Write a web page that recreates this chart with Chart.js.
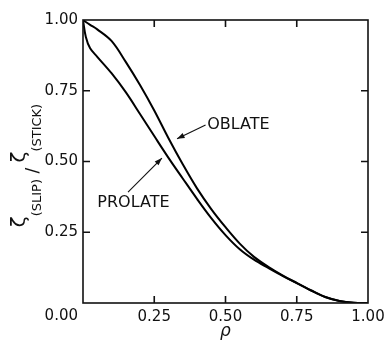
<!DOCTYPE html>
<html lang="en">
<head>
  <meta charset="UTF-8">
  <title>Slip / stick ratio</title>
  <script src="https://cdn.jsdelivr.net/npm/chart.js"></script>
  <style>
    html, body { margin: 0; padding: 0; background: #fff; }
    #box { width: 384px; height: 344px; }
  </style>
</head>
<body>
  <div id="box"><canvas id="grafico" width="384" height="344"></canvas></div>

<script>
  // valores
  var rho = [0, 0.01, 0.025, 0.05, 0.10, 0.15, 0.20, 0.25, 0.30, 0.35, 0.40, 0.45, 0.50,
             0.55, 0.60, 0.65, 0.70, 0.75, 0.80, 0.85, 0.90, 0.95, 1.00];
  var oblate = [1.0, 0.993, 0.983, 0.967, 0.926, 0.852, 0.770, 0.680, 0.582, 0.490, 0.405, 0.332, 0.268,
                0.210, 0.163, 0.128, 0.098, 0.071, 0.045, 0.021, 0.007, 0.001, 0];
  var prolate = [1.0, 0.940, 0.900, 0.870, 0.812, 0.745, 0.668, 0.590, 0.513, 0.440, 0.368, 0.300, 0.240,
                 0.190, 0.153, 0.124, 0.096, 0.070, 0.044, 0.021, 0.007, 0.001, 0];
  var tickValues = [0, 0.25, 0.5, 0.75, 1];

  // rotulos com seta: [texto, ponta x, ponta y, cauda x, cauda y, texto x, texto y, alinhamento]
  var rotulos = [
    ['OBLATE', 0.330, 0.580, 0.430, 0.629, 0.436, 0.629, 'left'],
    ['PROLATE', 0.277, 0.512, 0.158, 0.392, 0.177, 0.353, 'center']
  ];

  var fonte = "'DejaVu Sans', sans-serif";
  var tinta = '#111';

  function pontos(ys) {
    var out = [];
    for (let i = 0; i < rho.length; i++) out.push({ x: rho[i], y: ys[i] });
    return out;
  }

  // moldura com tracinhos para dentro, rotulos e titulo do eixo y
  var moldura = {
    id: 'moldura',
    afterDraw(chart) {
      var ctx = chart.ctx, a = chart.chartArea;
      var x = chart.scales.x, y = chart.scales.y;
      ctx.save();
      ctx.strokeStyle = tinta;
      ctx.lineWidth = 1.6;
      ctx.strokeRect(a.left, a.top, a.right - a.left, a.bottom - a.top);

      var t = 7;
      ctx.beginPath();
      tickValues.slice(1, 4).forEach(function (v) {
        var px = x.getPixelForValue(v), py = y.getPixelForValue(v);
        ctx.moveTo(px, a.bottom); ctx.lineTo(px, a.bottom - t);
        ctx.moveTo(px, a.top); ctx.lineTo(px, a.top + t);
        ctx.moveTo(a.left, py); ctx.lineTo(a.left + t, py);
        ctx.moveTo(a.right, py); ctx.lineTo(a.right - t, py);
      });
      ctx.stroke();

      // 0.00 do canto, deslocado para a esquerda
      ctx.fillStyle = tinta;
      ctx.font = '15px ' + fonte;
      ctx.textAlign = 'right';
      ctx.textBaseline = 'middle';
      ctx.fillText('0.00', a.left - 5, a.bottom + 13);

      // setas
      ctx.lineWidth = 1.1;
      rotulos.forEach(function (r) {
        var x1 = x.getPixelForValue(r[1]), y1 = y.getPixelForValue(r[2]);
        var x0 = x.getPixelForValue(r[3]), y0 = y.getPixelForValue(r[4]);
        var ang = Math.atan2(y1 - y0, x1 - x0);
        ctx.beginPath();
        ctx.moveTo(x0, y0); ctx.lineTo(x1, y1);
        ctx.stroke();
        ctx.beginPath();
        ctx.moveTo(x1, y1);
        ctx.lineTo(x1 - 8 * Math.cos(ang - 0.35), y1 - 8 * Math.sin(ang - 0.35));
        ctx.lineTo(x1 - 8 * Math.cos(ang + 0.35), y1 - 8 * Math.sin(ang + 0.35));
        ctx.closePath();
        ctx.fill();
        ctx.font = '16px ' + fonte;
        ctx.textAlign = r[7];
        ctx.textBaseline = 'middle';
        ctx.fillText(r[0], x.getPixelForValue(r[5]), y.getPixelForValue(r[6]));
      });

      // titulo do eixo y: zeta grande com indices pequenos
      var partes = [['\u03B6', 20, 25], ['(SLIP)', 13, 41], [' / ', 17, 38], ['\u03B6', 20, 25], ['(STICK)', 13, 41]];
      var total = 0;
      partes.forEach(function (p) { ctx.font = p[1] + 'px ' + fonte; p.push(ctx.measureText(p[0]).width); total += p[3]; });
      ctx.translate(0, (a.top + a.bottom) / 2);
      ctx.rotate(-Math.PI / 2);
      ctx.textAlign = 'left';
      ctx.textBaseline = 'alphabetic';
      var pos = -total / 2 - 4;
      partes.forEach(function (p) {
        ctx.font = p[1] + 'px ' + fonte;
        ctx.fillText(p[0], pos, p[2]);
        pos += p[3];
      });
      ctx.restore();
    }
  };

  var ctx = document.getElementById('grafico').getContext('2d');

  var config = {
    type: 'line',
    data: {
      datasets: [
        { label: 'Oblate', data: pontos(oblate) },
        { label: 'Prolate', data: pontos(prolate) }
      ]
    },
    options: {
      responsive: false,
      animation: false,
      devicePixelRatio: 1,
      layout: { padding: { top: 20, right: 16, left: 0, bottom: 0 } },
      elements: {
        point: { radius: 0 },
        line: { borderColor: '#000', borderWidth: 2, tension: 0.35, fill: false }
      },
      scales: {
        x: {
          type: 'linear', min: 0, max: 1,
          afterBuildTicks: function (s) { s.ticks = tickValues.map(v => ({ value: v })); },
          afterFit: function (s) { s.height = 41; s.paddingLeft = 0; s.paddingRight = 0; },
          grid: { display: false, drawTicks: false, tickLength: 0 },
          border: { display: false },
          ticks: {
            padding: 5,
            color: tinta,
            font: { family: fonte, size: 15 },
            maxRotation: 0,
            callback: v => v === 0 ? '' : v.toFixed(2)
          },
          title: {
            display: true, text: '\u03C1', color: tinta,
            font: { family: fonte, size: 17, style: 'italic' },
            padding: { top: 0, bottom: 2 }
          }
        },
        y: {
          type: 'linear', min: 0, max: 1,
          afterBuildTicks: function (s) { s.ticks = tickValues.map(v => ({ value: v })); },
          afterFit: function (s) { s.width = 83; s.paddingTop = 0; s.paddingBottom = 0; },
          grid: { display: false, drawTicks: false, tickLength: 0 },
          border: { display: false },
          ticks: {
            padding: 5,
            color: tinta,
            font: { family: fonte, size: 15 },
            callback: v => v === 0 ? '' : v.toFixed(2)
          }
        }
      },
      plugins: {
        legend: { display: false },
        tooltip: { enabled: false }
      }
    },
    plugins: [moldura]
  };

  new Chart(ctx, config);
</script>
</body>
</html>
